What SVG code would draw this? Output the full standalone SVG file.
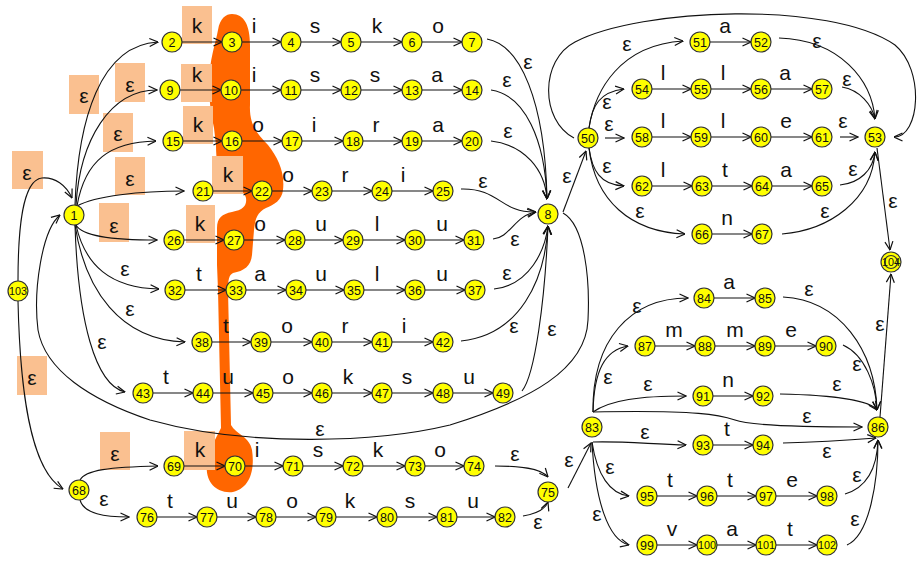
<svg xmlns="http://www.w3.org/2000/svg" width="922" height="564" viewBox="0 0 922 564">
<style>
.n circle{fill:#FFFF00;stroke:#333;stroke-width:1.2}
.n text{font-family:"Liberation Sans",Arial,sans-serif;font-size:12.5px;text-anchor:middle;fill:#111}
.n text.s{font-size:11px}
.e path,.e line{fill:none;stroke:#111;stroke-width:1.1;marker-end:url(#a)}
.lb text{font-family:"Liberation Sans",Arial,sans-serif;font-size:21px;text-anchor:middle;fill:#111}
.bx rect{fill:#FAC090}
</style>
<defs>
<marker id="a" viewBox="0 0 10 10" refX="9.5" refY="5" markerWidth="10" markerHeight="10" markerUnits="userSpaceOnUse" orient="auto">
<path d="M1,1 L9.5,5 L1,9" fill="none" stroke="#111" stroke-width="1.2"/>
</marker>
</defs>
<rect width="922" height="564" fill="#fff"/>
<path id="blob" fill="#FF6600" d="M232,14 C244,14 250,25 250,45 L250,105 C249,125 258,135 268,145 C278,158 285,172 283,190 C282,200 274,205 266,208 C258,212 255,218 254,230 L252,255 C251,266 244,271 233,273 C229,275 228,280 228,290 L231,425 C236,434 250,437 252,450 C255,470 250,488 233,492 C215,494 205,480 207,465 C209,450 215,440 221,428 L218,290 L217,265 L217,228 C217,218 222,214 232,212 C244,210 247,205 246,198 C245,190 230,186 224,180 C218,172 216,160 216,145 L214,128 C211,115 209,100 209,85 C209,60 216,42 218,30 C220,18 226,14 232,14 Z"/>
<g class="bx">
<rect x="182" y="6" width="30" height="38"/>
<rect x="181" y="64" width="31" height="38"/>
<rect x="183" y="106" width="30" height="38"/>
<rect x="212" y="156" width="31" height="38"/>
<rect x="186" y="205" width="29" height="38"/>
<rect x="184" y="431" width="31" height="39"/>
<rect x="69" y="75" width="30" height="39"/>
<rect x="115" y="63" width="30" height="39"/>
<rect x="103" y="113" width="30" height="39"/>
<rect x="115" y="157" width="30" height="38"/>
<rect x="12" y="151" width="31" height="38"/>
<rect x="99" y="203" width="30" height="39"/>
<rect x="17" y="356" width="30" height="39"/>
<rect x="100" y="432" width="30" height="38"/>
</g>
<g class="e" id="edges">
<line x1="182" y1="42" x2="222" y2="42"/><line x1="242" y1="42" x2="281" y2="42"/><line x1="301" y1="42" x2="341" y2="42"/><line x1="361" y1="42" x2="402" y2="42"/><line x1="422" y1="42" x2="462" y2="42"/>
<line x1="180" y1="90" x2="221" y2="90"/><line x1="241" y1="90" x2="281" y2="90"/><line x1="301" y1="90" x2="341" y2="90"/><line x1="361" y1="90" x2="402" y2="90"/><line x1="422" y1="90" x2="462" y2="90"/>
<line x1="183" y1="141" x2="222" y2="141"/><line x1="242" y1="141" x2="282" y2="141"/><line x1="302" y1="141" x2="343" y2="141"/><line x1="363" y1="141" x2="402" y2="141"/><line x1="422" y1="141" x2="462" y2="141"/>
<line x1="213" y1="191" x2="252" y2="191"/><line x1="272" y1="191" x2="312" y2="191"/><line x1="332" y1="191" x2="372" y2="191"/><line x1="392" y1="191" x2="433" y2="191"/>
<line x1="184" y1="240" x2="224" y2="240"/><line x1="244" y1="240" x2="285" y2="240"/><line x1="305" y1="240" x2="343" y2="240"/><line x1="363" y1="240" x2="405" y2="240"/><line x1="425" y1="240" x2="464" y2="240"/>
<line x1="185" y1="290" x2="226" y2="290"/><line x1="246" y1="290" x2="286" y2="290"/><line x1="306" y1="290" x2="344" y2="290"/><line x1="364" y1="290" x2="405" y2="290"/><line x1="425" y1="290" x2="465" y2="290"/>
<line x1="212" y1="342" x2="251" y2="342"/><line x1="271" y1="342" x2="312" y2="342"/><line x1="332" y1="342" x2="372" y2="342"/><line x1="392" y1="342" x2="433" y2="342"/>
<line x1="153" y1="393" x2="193" y2="393"/><line x1="213" y1="393" x2="253" y2="393"/><line x1="273" y1="393" x2="312" y2="393"/><line x1="332" y1="393" x2="372" y2="393"/><line x1="392" y1="393" x2="433" y2="393"/><line x1="453" y1="393" x2="493" y2="393"/>
<line x1="184" y1="466" x2="225" y2="466"/><line x1="245" y1="466" x2="283" y2="466"/><line x1="303" y1="466" x2="343" y2="466"/><line x1="363" y1="466" x2="405" y2="466"/><line x1="425" y1="466" x2="464" y2="466"/>
<line x1="157" y1="517" x2="197" y2="517"/><line x1="217" y1="517" x2="256" y2="517"/><line x1="276" y1="517" x2="316" y2="517"/><line x1="336" y1="517" x2="377" y2="517"/><line x1="397" y1="517" x2="437" y2="517"/><line x1="457" y1="517" x2="495" y2="517"/>
<line x1="710" y1="42" x2="751" y2="42"/>
<line x1="652" y1="89" x2="691" y2="89"/><line x1="711" y1="89" x2="751" y2="89"/><line x1="771" y1="89" x2="812" y2="89"/>
<line x1="652" y1="137" x2="691" y2="137"/><line x1="711" y1="137" x2="751" y2="137"/><line x1="771" y1="137" x2="812" y2="137"/>
<line x1="652" y1="186" x2="692" y2="186"/><line x1="712" y1="186" x2="752" y2="186"/><line x1="772" y1="186" x2="812" y2="186"/>
<line x1="712" y1="234" x2="752" y2="234"/>
<line x1="714" y1="298" x2="755" y2="298"/>
<line x1="655" y1="346" x2="695" y2="346"/><line x1="715" y1="346" x2="755" y2="346"/><line x1="775" y1="346" x2="816" y2="346"/>
<line x1="713" y1="396" x2="753" y2="396"/>
<line x1="713" y1="445" x2="753" y2="445"/>
<line x1="657" y1="496" x2="697" y2="496"/><line x1="717" y1="496" x2="756" y2="496"/><line x1="776" y1="496" x2="817" y2="496"/>
<line x1="657" y1="545" x2="697" y2="545"/><line x1="717" y1="545" x2="756" y2="545"/><line x1="776" y1="545" x2="817" y2="545"/>
<path d="M75,205 C78,120 100,45 158,42"/>
<path d="M76,205 C80,140 110,90 157,90"/>
<path d="M77,206 C85,160 110,142 156,141"/>
<path d="M77,206 C95,196 140,191 184,191"/>
<path d="M76,225 C82,236 110,240 157,240"/>
<path d="M76,225 C85,265 110,288 159,289"/>
<path d="M75,225 C85,290 120,340 185,342"/>
<path d="M75,225 C78,320 95,385 125,392"/>
<path d="M18,281 C18,230 22,180 42,178 C55,177 66,185 72,198"/>
<path d="M18,301 C20,390 30,470 63,489"/>
<path d="M80,480 C85,470 110,467 158,466"/>
<path d="M80,500 C84,514 105,517 129,517"/>
<path d="M487,39 C520,45 545,100 547,199"/>
<path d="M491,90 C525,95 545,140 547,199"/>
<path d="M491,141 C525,145 545,170 547,199"/>
<path d="M461,189 C500,188 500,213 536,212"/>
<path d="M493,239 C510,238 515,215 536,212"/>
<path d="M494,289 C530,285 545,250 548,226"/>
<path d="M461,341 C520,335 545,280 548,226"/>
<path d="M522,391 C535,375 545,300 548,226"/>
<path d="M563,213 C585,225 590,280 588,320 C586,370 530,400 450,425 C380,442 250,448 150,420 C90,400 45,370 38,330 C33,290 42,230 60,215"/>
<path d="M563,212 L586,151"/>
<path d="M574,138 C540,120 540,60 575,42 C640,8 830,0 895,45 C925,70 920,137 894,137"/>
<path d="M589,128 C595,90 620,45 683,41"/>
<path d="M589,128 C592,105 600,92 624,89"/>
<path d="M605,138 L624,138"/>
<path d="M589,148 C592,170 600,185 624,186"/>
<path d="M589,148 C595,200 630,232 685,234"/>
<path d="M779,38 C840,40 872,80 875,119"/>
<path d="M842,87 C860,90 872,105 875,119"/>
<path d="M840,137 L858,137"/>
<path d="M840,185 C860,183 873,170 875,152"/>
<path d="M782,234 C830,230 872,200 875,152"/>
<path d="M877,148 L890,250"/>
<path d="M880,417 L891,274"/>
<path d="M495,466 C520,466 540,468 548,477"/>
<path d="M523,516 C535,514 545,510 548,502"/>
<path d="M568,488 L591,443"/>
<path d="M593,412 C592,340 630,298 688,298"/>
<path d="M593,412 C594,370 605,350 628,346"/>
<path d="M593,412 C610,400 640,396 686,396"/>
<path d="M593,412 C700,410 720,415 735,420 C750,426 800,427 862,427"/>
<path d="M593,442 C620,441 650,444 686,445"/>
<path d="M592,442 C597,475 610,494 629,496"/>
<path d="M592,442 C595,500 608,540 629,545"/>
<path d="M783,297 C840,300 875,350 877,410"/>
<path d="M843,345 C865,355 876,385 877,410"/>
<path d="M780,394 C830,395 870,400 877,410"/>
<path d="M783,443 C820,442 850,440 876,438"/>
<path d="M845,494 C865,488 877,470 878,440"/>
<path d="M847,545 C870,535 878,480 878,440"/>
</g>
<g id="n1" class="n"><circle cx="74" cy="215" r="10"/><text x="74" y="219.5">1</text></g>
<g id="n2" class="n"><circle cx="172" cy="42" r="10"/><text x="172" y="46.5">2</text></g>
<g id="n3" class="n"><circle cx="232" cy="42" r="10"/><text x="232" y="46.5">3</text></g>
<g id="n4" class="n"><circle cx="291" cy="42" r="10"/><text x="291" y="46.5">4</text></g>
<g id="n5" class="n"><circle cx="351" cy="42" r="10"/><text x="351" y="46.5">5</text></g>
<g id="n6" class="n"><circle cx="412" cy="42" r="10"/><text x="412" y="46.5">6</text></g>
<g id="n7" class="n"><circle cx="472" cy="42" r="10"/><text x="472" y="46.5">7</text></g>
<g id="n8" class="n"><circle cx="548" cy="214" r="10"/><text x="548" y="218.5">8</text></g>
<g id="n9" class="n"><circle cx="170" cy="90" r="10"/><text x="170" y="94.5">9</text></g>
<g id="n10" class="n"><circle cx="231" cy="90" r="10"/><text x="231" y="94.5">10</text></g>
<g id="n11" class="n"><circle cx="291" cy="90" r="10"/><text x="291" y="94.5">11</text></g>
<g id="n12" class="n"><circle cx="351" cy="90" r="10"/><text x="351" y="94.5">12</text></g>
<g id="n13" class="n"><circle cx="412" cy="90" r="10"/><text x="412" y="94.5">13</text></g>
<g id="n14" class="n"><circle cx="472" cy="90" r="10"/><text x="472" y="94.5">14</text></g>
<g id="n15" class="n"><circle cx="173" cy="141" r="10"/><text x="173" y="145.5">15</text></g>
<g id="n16" class="n"><circle cx="232" cy="141" r="10"/><text x="232" y="145.5">16</text></g>
<g id="n17" class="n"><circle cx="292" cy="141" r="10"/><text x="292" y="145.5">17</text></g>
<g id="n18" class="n"><circle cx="353" cy="141" r="10"/><text x="353" y="145.5">18</text></g>
<g id="n19" class="n"><circle cx="412" cy="141" r="10"/><text x="412" y="145.5">19</text></g>
<g id="n20" class="n"><circle cx="472" cy="141" r="10"/><text x="472" y="145.5">20</text></g>
<g id="n21" class="n"><circle cx="203" cy="191" r="10"/><text x="203" y="195.5">21</text></g>
<g id="n22" class="n"><circle cx="262" cy="191" r="10"/><text x="262" y="195.5">22</text></g>
<g id="n23" class="n"><circle cx="322" cy="191" r="10"/><text x="322" y="195.5">23</text></g>
<g id="n24" class="n"><circle cx="382" cy="191" r="10"/><text x="382" y="195.5">24</text></g>
<g id="n25" class="n"><circle cx="443" cy="191" r="10"/><text x="443" y="195.5">25</text></g>
<g id="n26" class="n"><circle cx="174" cy="240" r="10"/><text x="174" y="244.5">26</text></g>
<g id="n27" class="n"><circle cx="234" cy="240" r="10"/><text x="234" y="244.5">27</text></g>
<g id="n28" class="n"><circle cx="295" cy="240" r="10"/><text x="295" y="244.5">28</text></g>
<g id="n29" class="n"><circle cx="353" cy="240" r="10"/><text x="353" y="244.5">29</text></g>
<g id="n30" class="n"><circle cx="415" cy="240" r="10"/><text x="415" y="244.5">30</text></g>
<g id="n31" class="n"><circle cx="474" cy="240" r="10"/><text x="474" y="244.5">31</text></g>
<g id="n32" class="n"><circle cx="175" cy="290" r="10"/><text x="175" y="294.5">32</text></g>
<g id="n33" class="n"><circle cx="236" cy="290" r="10"/><text x="236" y="294.5">33</text></g>
<g id="n34" class="n"><circle cx="296" cy="290" r="10"/><text x="296" y="294.5">34</text></g>
<g id="n35" class="n"><circle cx="354" cy="290" r="10"/><text x="354" y="294.5">35</text></g>
<g id="n36" class="n"><circle cx="415" cy="290" r="10"/><text x="415" y="294.5">36</text></g>
<g id="n37" class="n"><circle cx="475" cy="290" r="10"/><text x="475" y="294.5">37</text></g>
<g id="n38" class="n"><circle cx="202" cy="342" r="10"/><text x="202" y="346.5">38</text></g>
<g id="n39" class="n"><circle cx="261" cy="342" r="10"/><text x="261" y="346.5">39</text></g>
<g id="n40" class="n"><circle cx="322" cy="342" r="10"/><text x="322" y="346.5">40</text></g>
<g id="n41" class="n"><circle cx="382" cy="342" r="10"/><text x="382" y="346.5">41</text></g>
<g id="n42" class="n"><circle cx="443" cy="342" r="10"/><text x="443" y="346.5">42</text></g>
<g id="n43" class="n"><circle cx="143" cy="393" r="10"/><text x="143" y="397.5">43</text></g>
<g id="n44" class="n"><circle cx="203" cy="393" r="10"/><text x="203" y="397.5">44</text></g>
<g id="n45" class="n"><circle cx="263" cy="393" r="10"/><text x="263" y="397.5">45</text></g>
<g id="n46" class="n"><circle cx="322" cy="393" r="10"/><text x="322" y="397.5">46</text></g>
<g id="n47" class="n"><circle cx="382" cy="393" r="10"/><text x="382" y="397.5">47</text></g>
<g id="n48" class="n"><circle cx="443" cy="393" r="10"/><text x="443" y="397.5">48</text></g>
<g id="n49" class="n"><circle cx="503" cy="393" r="10"/><text x="503" y="397.5">49</text></g>
<g id="n50" class="n"><circle cx="588" cy="138" r="10"/><text x="588" y="142.5">50</text></g>
<g id="n51" class="n"><circle cx="700" cy="42" r="10"/><text x="700" y="46.5">51</text></g>
<g id="n52" class="n"><circle cx="761" cy="42" r="10"/><text x="761" y="46.5">52</text></g>
<g id="n53" class="n"><circle cx="875" cy="137" r="10"/><text x="875" y="141.5">53</text></g>
<g id="n54" class="n"><circle cx="642" cy="89" r="10"/><text x="642" y="93.5">54</text></g>
<g id="n55" class="n"><circle cx="701" cy="89" r="10"/><text x="701" y="93.5">55</text></g>
<g id="n56" class="n"><circle cx="761" cy="89" r="10"/><text x="761" y="93.5">56</text></g>
<g id="n57" class="n"><circle cx="822" cy="89" r="10"/><text x="822" y="93.5">57</text></g>
<g id="n58" class="n"><circle cx="642" cy="137" r="10"/><text x="642" y="141.5">58</text></g>
<g id="n59" class="n"><circle cx="701" cy="137" r="10"/><text x="701" y="141.5">59</text></g>
<g id="n60" class="n"><circle cx="761" cy="137" r="10"/><text x="761" y="141.5">60</text></g>
<g id="n61" class="n"><circle cx="822" cy="137" r="10"/><text x="822" y="141.5">61</text></g>
<g id="n62" class="n"><circle cx="642" cy="186" r="10"/><text x="642" y="190.5">62</text></g>
<g id="n63" class="n"><circle cx="702" cy="186" r="10"/><text x="702" y="190.5">63</text></g>
<g id="n64" class="n"><circle cx="762" cy="186" r="10"/><text x="762" y="190.5">64</text></g>
<g id="n65" class="n"><circle cx="822" cy="186" r="10"/><text x="822" y="190.5">65</text></g>
<g id="n66" class="n"><circle cx="702" cy="234" r="10"/><text x="702" y="238.5">66</text></g>
<g id="n67" class="n"><circle cx="762" cy="234" r="10"/><text x="762" y="238.5">67</text></g>
<g id="n68" class="n"><circle cx="79" cy="490" r="10"/><text x="79" y="494.5">68</text></g>
<g id="n69" class="n"><circle cx="174" cy="466" r="10"/><text x="174" y="470.5">69</text></g>
<g id="n70" class="n"><circle cx="235" cy="466" r="10"/><text x="235" y="470.5">70</text></g>
<g id="n71" class="n"><circle cx="293" cy="466" r="10"/><text x="293" y="470.5">71</text></g>
<g id="n72" class="n"><circle cx="353" cy="466" r="10"/><text x="353" y="470.5">72</text></g>
<g id="n73" class="n"><circle cx="415" cy="466" r="10"/><text x="415" y="470.5">73</text></g>
<g id="n74" class="n"><circle cx="474" cy="466" r="10"/><text x="474" y="470.5">74</text></g>
<g id="n75" class="n"><circle cx="548" cy="492" r="10"/><text x="548" y="496.5">75</text></g>
<g id="n76" class="n"><circle cx="147" cy="517" r="10"/><text x="147" y="521.5">76</text></g>
<g id="n77" class="n"><circle cx="207" cy="517" r="10"/><text x="207" y="521.5">77</text></g>
<g id="n78" class="n"><circle cx="266" cy="517" r="10"/><text x="266" y="521.5">78</text></g>
<g id="n79" class="n"><circle cx="326" cy="517" r="10"/><text x="326" y="521.5">79</text></g>
<g id="n80" class="n"><circle cx="387" cy="517" r="10"/><text x="387" y="521.5">80</text></g>
<g id="n81" class="n"><circle cx="447" cy="517" r="10"/><text x="447" y="521.5">81</text></g>
<g id="n82" class="n"><circle cx="505" cy="517" r="10"/><text x="505" y="521.5">82</text></g>
<g id="n83" class="n"><circle cx="592" cy="427" r="10"/><text x="592" y="431.5">83</text></g>
<g id="n84" class="n"><circle cx="704" cy="298" r="10"/><text x="704" y="302.5">84</text></g>
<g id="n85" class="n"><circle cx="765" cy="298" r="10"/><text x="765" y="302.5">85</text></g>
<g id="n86" class="n"><circle cx="878" cy="427" r="10"/><text x="878" y="431.5">86</text></g>
<g id="n87" class="n"><circle cx="645" cy="346" r="10"/><text x="645" y="350.5">87</text></g>
<g id="n88" class="n"><circle cx="705" cy="346" r="10"/><text x="705" y="350.5">88</text></g>
<g id="n89" class="n"><circle cx="765" cy="346" r="10"/><text x="765" y="350.5">89</text></g>
<g id="n90" class="n"><circle cx="826" cy="346" r="10"/><text x="826" y="350.5">90</text></g>
<g id="n91" class="n"><circle cx="703" cy="396" r="10"/><text x="703" y="400.5">91</text></g>
<g id="n92" class="n"><circle cx="763" cy="396" r="10"/><text x="763" y="400.5">92</text></g>
<g id="n93" class="n"><circle cx="703" cy="445" r="10"/><text x="703" y="449.5">93</text></g>
<g id="n94" class="n"><circle cx="763" cy="445" r="10"/><text x="763" y="449.5">94</text></g>
<g id="n95" class="n"><circle cx="647" cy="496" r="10"/><text x="647" y="500.5">95</text></g>
<g id="n96" class="n"><circle cx="707" cy="496" r="10"/><text x="707" y="500.5">96</text></g>
<g id="n97" class="n"><circle cx="766" cy="496" r="10"/><text x="766" y="500.5">97</text></g>
<g id="n98" class="n"><circle cx="827" cy="496" r="10"/><text x="827" y="500.5">98</text></g>
<g id="n99" class="n"><circle cx="647" cy="545" r="10"/><text x="647" y="549.5">99</text></g>
<g id="n100" class="n"><circle cx="707" cy="545" r="10"/><text class="s" x="707" y="549" textLength="18" lengthAdjust="spacingAndGlyphs">100</text></g>
<g id="n101" class="n"><circle cx="766" cy="545" r="10"/><text class="s" x="766" y="549" textLength="18" lengthAdjust="spacingAndGlyphs">101</text></g>
<g id="n102" class="n"><circle cx="827" cy="545" r="10"/><text class="s" x="827" y="549" textLength="18" lengthAdjust="spacingAndGlyphs">102</text></g>
<g id="n103" class="n"><circle cx="18" cy="291" r="10"/><text class="s" x="18" y="295" textLength="18" lengthAdjust="spacingAndGlyphs">103</text></g>
<g id="n104" class="n"><circle cx="891" cy="262" r="10"/><circle cx="891" cy="262" r="6.5"/><text class="s" x="891" y="266" textLength="18" lengthAdjust="spacingAndGlyphs">104</text></g>
<g class="lb" id="labels">
<text x="197" y="33">k</text><text x="254" y="33">i</text><text x="315" y="33">s</text><text x="377" y="33">k</text><text x="438" y="33">o</text>
<text x="197" y="82">k</text><text x="254" y="82">i</text><text x="315" y="82">s</text><text x="375" y="82">s</text><text x="437" y="82">a</text>
<text x="198" y="132">k</text><text x="258" y="132">o</text><text x="314" y="132">i</text><text x="376" y="132">r</text><text x="438" y="132">a</text>
<text x="228" y="182">k</text><text x="288" y="182">o</text><text x="345" y="182">r</text><text x="403" y="182">i</text>
<text x="200" y="231">k</text><text x="260" y="231">o</text><text x="321" y="231">u</text><text x="377" y="231">l</text><text x="442" y="231">u</text>
<text x="199" y="281">t</text><text x="260" y="281">a</text><text x="321" y="281">u</text><text x="377" y="281">l</text><text x="442" y="281">u</text>
<text x="226" y="333">t</text><text x="287" y="333">o</text><text x="345" y="333">r</text><text x="404" y="333">i</text>
<text x="166" y="384">t</text><text x="228" y="384">u</text><text x="288" y="384">o</text><text x="348" y="384">k</text><text x="407" y="384">s</text><text x="469" y="384">u</text>
<text x="200" y="457">k</text><text x="257" y="457">i</text><text x="318" y="457">s</text><text x="378" y="457">k</text><text x="440" y="457">o</text>
<text x="170" y="508">t</text><text x="232" y="508">u</text><text x="292" y="508">o</text><text x="350" y="508">k</text><text x="410" y="508">s</text><text x="473" y="508">u</text>
<text x="725" y="33">a</text>
<text x="663" y="80">l</text><text x="723" y="80">l</text><text x="785" y="80">a</text>
<text x="663" y="128">l</text><text x="723" y="128">l</text><text x="786" y="128">e</text>
<text x="663" y="177">l</text><text x="725" y="177">t</text><text x="786" y="177">a</text>
<text x="727" y="225">n</text>
<text x="729" y="289">a</text>
<text x="674" y="337">m</text><text x="735" y="337">m</text><text x="791" y="337">e</text>
<text x="728" y="387">n</text>
<text x="727" y="436">t</text>
<text x="670" y="487">t</text><text x="730" y="487">t</text><text x="792" y="487">e</text>
<text x="672" y="536">v</text><text x="732" y="536">a</text><text x="790" y="536">t</text>
<text x="84" y="103">ε</text><text x="130" y="92">ε</text><text x="118" y="141">ε</text><text x="130" y="186">ε</text><text x="27" y="180">ε</text><text x="114" y="233">ε</text><text x="32" y="385">ε</text><text x="115" y="461">ε</text>
<text x="125" y="276">ε</text><text x="130" y="316">ε</text><text x="102" y="349">ε</text><text x="104" y="506">ε</text><text x="320" y="436">ε</text>
<text x="528" y="69">ε</text><text x="507" y="87">ε</text><text x="508" y="138">ε</text><text x="483" y="188">ε</text><text x="515" y="246">ε</text><text x="507" y="280">ε</text><text x="514" y="333">ε</text><text x="552" y="336">ε</text><text x="567" y="183">ε</text>
<text x="627" y="51">ε</text><text x="607" y="109">ε</text><text x="609" y="131">ε</text><text x="607" y="173">ε</text><text x="640" y="218">ε</text>
<text x="817" y="48">ε</text><text x="847" y="86">ε</text><text x="843" y="128">ε</text><text x="853" y="176">ε</text><text x="825" y="218">ε</text><text x="893" y="208">ε</text>
<text x="880" y="331">ε</text>
<text x="569" y="467">ε</text><text x="515" y="461">ε</text><text x="538" y="529">ε</text>
<text x="637" y="313">ε</text><text x="608" y="384">ε</text><text x="648" y="391">ε</text><text x="807" y="423">ε</text><text x="645" y="439">ε</text><text x="610" y="474">ε</text><text x="597" y="521">ε</text>
<text x="809" y="296">ε</text><text x="857" y="371">ε</text><text x="837" y="391">ε</text><text x="827" y="458">ε</text><text x="857" y="482">ε</text><text x="855" y="526">ε</text>
</g>
</svg>
